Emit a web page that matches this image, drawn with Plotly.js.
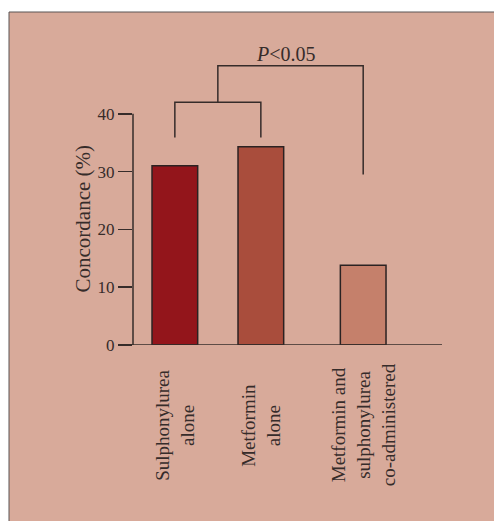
<!DOCTYPE html>
<html>
<head>
<meta charset="utf-8">
<script src="https://cdn.plot.ly/plotly-3.0.1.min.js"></script>
<style>html,body{margin:0;padding:0;background:#fff;overflow:hidden;}</style>
</head>
<body>
<div id="chart" style="width:494px;height:521px;"></div>
<script>
// ---- data ----
const categories = ['Sulphonylurea<br>alone', 'Metformin<br>alone', 'Metformin and<br>sulphonylurea<br>co-administered'];
const concordance = [31.0, 34.3, 13.8];
const yTickValues = [0, 10, 20, 30, 40];
const yTickLabels = ['0', '10', '20', '30', '40'];
const yAxisTitle = 'Concordance (%)';
const significanceLabel = '<i>P</i>&lt;0.05';
// bracket heights (in axis units)
const innerBracket = {top: 42.0, legBottom: 35.9};
const outerBracket = {top: 48.3, rightLegBottom: 29.5};

// ---- layout constants ----
const barPositions = [0, 1, 2.19];
const barColors = ['#93151b', '#a94d3c', '#c5806b'];
const ink = '#362c2a';
const panelColor = '#d8aa9a';
const fontFamily = '"Liberation Serif", "Times New Roman", serif';

const W = 494, H = 521;
const mL = 133, mR = 52, mT = 56, mB = 176;
const plotW = W - mL - mR, plotH = H - mT - mB;
const px2paperX = px => (px - mL) / plotW;
const px2paperY = py => (H - mB - py) / plotH;

const trace = {
  type: 'bar',
  x: barPositions,
  y: concordance,
  width: 0.531,
  marker: {color: barColors, line: {color: '#2b2222', width: 1.5}},
  hoverinfo: 'skip'
};

const midInner = (barPositions[0] + barPositions[1]) / 2;
const lineStyle = {color: ink, width: 1.5};
const borderStyle = {color: '#5a5555', width: 1};

const shapes = [
  // panel background
  {type: 'rect', xref: 'paper', yref: 'paper', layer: 'below',
   x0: px2paperX(9), x1: px2paperX(W + 40), y0: px2paperY(H + 40), y1: px2paperY(12),
   fillcolor: panelColor, line: {width: 0}},
  // panel top and left borders
  {type: 'line', xref: 'paper', yref: 'paper', layer: 'below',
   x0: px2paperX(9), x1: px2paperX(W + 40), y0: px2paperY(12), y1: px2paperY(12), line: borderStyle},
  {type: 'line', xref: 'paper', yref: 'paper', layer: 'below',
   x0: px2paperX(9), x1: px2paperX(9), y0: px2paperY(12), y1: px2paperY(H + 40), line: borderStyle},
  // y-axis line (0..40)
  {type: 'line', xref: 'paper', yref: 'y', x0: 0, x1: 0, y0: 0, y1: yTickValues[yTickValues.length - 1], line: lineStyle},
  // x-axis line
  {type: 'line', xref: 'paper', yref: 'y', x0: px2paperX(118), x1: 1, y0: 0, y1: 0, line: lineStyle},
  // inner bracket
  {type: 'path', xref: 'x', yref: 'y', line: lineStyle,
   path: `M ${barPositions[0]} ${innerBracket.legBottom} L ${barPositions[0]} ${innerBracket.top} L ${barPositions[1]} ${innerBracket.top} L ${barPositions[1]} ${innerBracket.legBottom}`},
  // outer bracket
  {type: 'path', xref: 'x', yref: 'y', line: lineStyle,
   path: `M ${midInner} ${innerBracket.top} L ${midInner} ${outerBracket.top} L ${barPositions[2]} ${outerBracket.top} L ${barPositions[2]} ${outerBracket.rightLegBottom}`}
];

const annotations = categories.map((c, i) => ({
  text: c, x: barPositions[i], xref: 'x', y: px2paperY(425), yref: 'paper',
  xanchor: 'center', yanchor: 'middle', textangle: -90, align: 'center',
  showarrow: false, font: {family: fontFamily, size: 19, color: ink}
}));
annotations.push({
  text: yAxisTitle, x: px2paperX(82), xref: 'paper', y: px2paperY(218.5), yref: 'paper',
  xanchor: 'center', yanchor: 'middle', textangle: -90, showarrow: false,
  font: {family: fontFamily, size: 21, color: ink}
});
annotations.push({
  text: significanceLabel, x: px2paperX(285.5), xref: 'paper', y: px2paperY(54), yref: 'paper',
  xanchor: 'center', yanchor: 'middle', showarrow: false,
  font: {family: fontFamily, size: 20, color: ink}
});

const layout = {
  width: W, height: H,
  margin: {l: mL, r: mR, t: mT, b: mB, pad: 0},
  paper_bgcolor: '#ffffff',
  plot_bgcolor: 'rgba(0,0,0,0)',
  showlegend: false,
  font: {family: fontFamily, color: ink},
  xaxis: {
    range: [(mL - 174.85) / 86, (W - mR - 174.85) / 86],
    showticklabels: false, ticks: '', showline: false, showgrid: false, zeroline: false, fixedrange: true
  },
  yaxis: {
    range: [0, 50],
    tickmode: 'array', tickvals: yTickValues, ticktext: yTickLabels,
    ticks: 'outside', ticklen: 14, tickwidth: 1.5, tickcolor: ink,
    tickfont: {family: fontFamily, size: 17, color: ink},
    showline: false, showgrid: false, zeroline: false, fixedrange: true
  },
  shapes: shapes,
  annotations: annotations
};

Plotly.newPlot('chart', [trace], layout, {displayModeBar: false, staticPlot: true});
</script>
</body>
</html>
